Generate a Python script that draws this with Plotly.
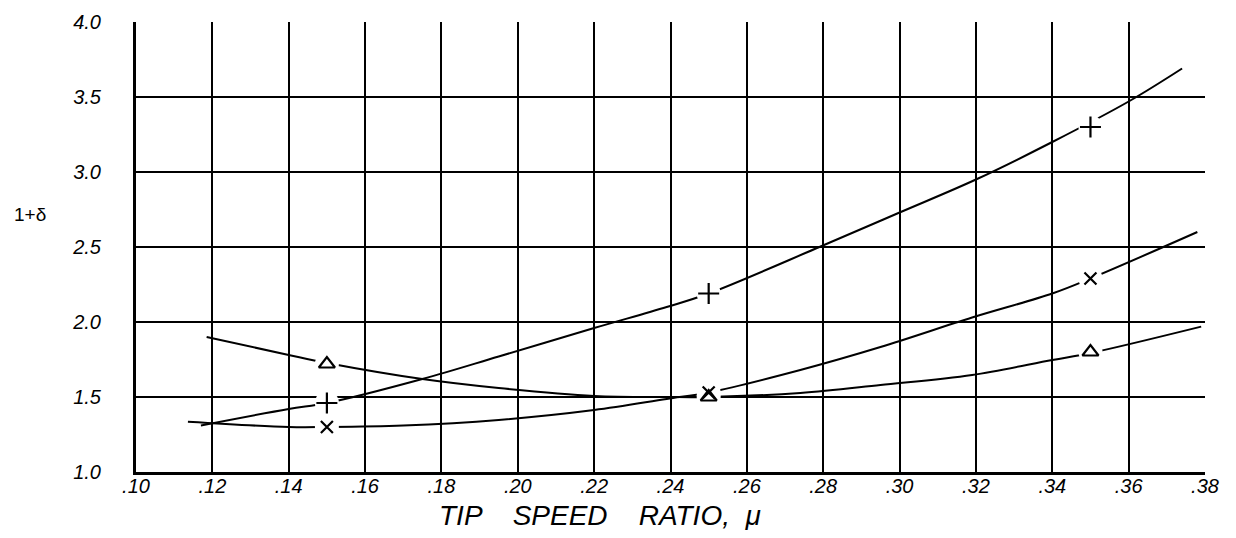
import plotly.graph_objects as go

# ---- data ----
x_pts = [0.15, 0.25, 0.35]
plus_pts = [1.46, 2.19, 3.30]
cross_pts = [1.30, 1.53, 2.29]
tri_pts = [1.72, 1.50, 1.80]

plus_curve_x = [0.117, 0.14, 0.15, 0.175, 0.195, 0.22, 0.239, 0.25, 0.279, 0.30, 0.32, 0.34, 0.36, 0.374]
plus_curve_y = [1.31, 1.42, 1.46, 1.62, 1.77, 1.96, 2.10, 2.19, 2.50, 2.73, 2.95, 3.20, 3.47, 3.69]

cross_curve_x = [0.1136, 0.14, 0.15, 0.17, 0.195, 0.22, 0.239, 0.25, 0.274, 0.295, 0.319, 0.34, 0.35, 0.378]
cross_curve_y = [1.335, 1.30, 1.30, 1.31, 1.347, 1.413, 1.487, 1.53, 1.68, 1.833, 2.03, 2.19, 2.29, 2.60]

tri_curve_x = [0.1185, 0.14, 0.15, 0.175, 0.195, 0.22, 0.239, 0.25, 0.274, 0.295, 0.319, 0.34, 0.35, 0.379]
tri_curve_y = [1.90, 1.78, 1.727, 1.62, 1.56, 1.507, 1.50, 1.50, 1.527, 1.58, 1.647, 1.747, 1.793, 1.969]

x_ticks = [0.10, 0.12, 0.14, 0.16, 0.18, 0.20, 0.22, 0.24, 0.26, 0.28, 0.30, 0.32, 0.34, 0.36, 0.38]
x_tick_labels = [".10", ".12", ".14", ".16", ".18", ".20", ".22", ".24", ".26", ".28", ".30", ".32", ".34", ".36", ".38"]
y_ticks = [1.0, 1.5, 2.0, 2.5, 3.0, 3.5, 4.0]
y_tick_labels = ["1.0", "1.5", "2.0", "2.5", "3.0", "3.5", "4.0"]

FONT = "Liberation Sans"

fig = go.Figure()
for cx, cy in [(plus_curve_x, plus_curve_y), (cross_curve_x, cross_curve_y), (tri_curve_x, tri_curve_y)]:
    fig.add_trace(go.Scatter(x=cx, y=cy, mode="lines",
                             line=dict(color="black", width=2, shape="spline", smoothing=1.0),
                             hoverinfo="skip", showlegend=False))

# white masks to create the gaps around the plotted points
all_x = x_pts * 3
all_y = plus_pts + cross_pts + tri_pts
fig.add_trace(go.Scatter(x=all_x, y=all_y, mode="markers",
                         marker=dict(symbol="circle", size=24, color="white", line=dict(width=0)),
                         hoverinfo="skip", showlegend=False))

fig.add_trace(go.Scatter(x=x_pts, y=plus_pts, mode="markers", name="+",
                         marker=dict(symbol="cross-thin-open", size=15, color="black",
                                     line=dict(color="black", width=2.2))))
fig.add_trace(go.Scatter(x=x_pts, y=cross_pts, mode="markers", name="x",
                         marker=dict(symbol="x-thin-open", size=12, color="black",
                                     line=dict(color="black", width=2.2))))
fig.add_trace(go.Scatter(x=x_pts, y=tri_pts, mode="markers", name="tri",
                         marker=dict(symbol="triangle-up-open", size=14, color="black",
                                     line=dict(color="black", width=2.2))))

# page body has an 8px margin, so the figure is 16px smaller than the window
fig.update_layout(
    width=1220, height=522,
    margin=dict(l=128, r=23, t=14, b=58, autoexpand=False),
    paper_bgcolor="white", plot_bgcolor="white",
    showlegend=False,
    font=dict(family=FONT, color="black", size=20, style="italic"),
)
fig.update_xaxes(range=[0.10, 0.38], tickvals=x_ticks, ticktext=x_tick_labels,
                 showgrid=True, gridcolor="black", gridwidth=1.6,
                 showline=True, linecolor="black", linewidth=3,
                 ticks="", ticklabelstandoff=-6, zeroline=False, automargin=False,
                 tickfont=dict(family=FONT, size=20, color="black", style="italic"))
fig.update_yaxes(range=[1.0, 4.0], tickvals=y_ticks, ticktext=y_tick_labels,
                 showgrid=True, gridcolor="black", gridwidth=1.6,
                 showline=True, linecolor="black", linewidth=3,
                 ticks="", ticklabelstandoff=28, zeroline=False, automargin=False,
                 tickfont=dict(family=FONT, size=20, color="black", style="italic"))

fig.add_annotation(text="1+δ", xref="paper", yref="paper", x=-0.099, y=0.573,
                   xanchor="center", yanchor="middle",
                   showarrow=False, font=dict(family=FONT, size=19, color="black", style="normal"))
fig.add_annotation(text="TIP    SPEED    RATIO,  μ", xref="paper", yref="paper", x=0.434, y=-0.096,
                   xanchor="center", yanchor="middle", showarrow=False,
                   font=dict(family=FONT, size=28, color="black", style="italic"))

fig.write_html("out.html")
